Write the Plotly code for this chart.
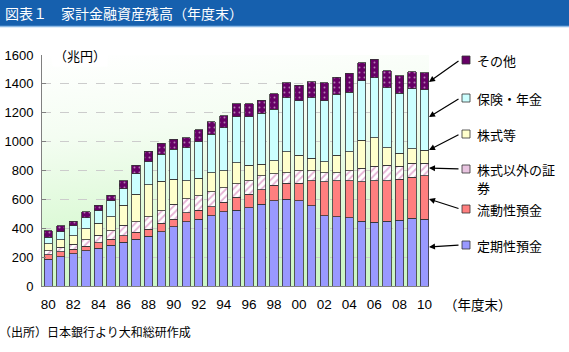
import base64
import plotly.graph_objects as go

years = list(range(1980, 2011))
tick_years = list(range(1980, 2011, 2))
tick_labels = ["80", "82", "84", "86", "88", "90", "92", "94", "96", "98",
               "00", "02", "04", "06", "08", "10"]

teiki = [185, 203, 222, 245, 261, 284, 302, 323, 346, 376, 411, 446, 462, 485, 515, 526,
         543, 566, 589, 600, 589, 557, 487, 480, 473, 450, 441, 450, 457, 469, 464]
ryudo = [30, 35, 32, 32, 39, 39, 47, 49, 47, 58, 51, 62, 64, 65, 65, 88,
         94, 99, 108, 111, 122, 173, 236, 250, 257, 273, 289, 280, 282, 284, 298]
shoken = [30, 30, 35, 42, 53, 60, 71, 74, 87, 88, 104, 95, 100, 103, 101, 93,
          93, 97, 79, 74, 88, 69, 62, 55, 69, 92, 101, 108, 92, 97, 88]
kabu = [46, 51, 60, 76, 81, 97, 141, 189, 220, 205, 173, 127, 120, 132, 116, 147,
        108, 83, 92, 146, 108, 85, 76, 122, 132, 196, 197, 120, 88, 99, 92]
hoken = [46, 57, 67, 78, 86, 109, 111, 141, 159, 185, 208, 228, 254, 266, 300, 319,
         335, 351, 358, 374, 375, 421, 421, 421, 411, 409, 415, 416, 416, 416, 416]
sonota = [44, 40, 34, 42, 41, 41, 58, 62, 76, 76, 71, 70, 81, 87, 81, 88,
          88, 92, 104, 103, 110, 110, 126, 117, 131, 127, 129, 118, 120, 120, 120]

series_names = ["定期性預金", "流動性預金", "株式以外の証券", "株式等", "保険・年金", "その他"]
legend_labels = [["その他"], ["保険・年金"], ["株式等"], ["株式以外の証", "券"], ["流動性預金"], ["定期性預金"]]

JP = "Noto Sans CJK JP"
NUM = "Liberation Sans, Noto Sans CJK JP"
EDGE = "#333333"

# plot geometry (pixels)
L, R, T, B = 42, 140, 55, 66
W, H = 569, 352
PW, PH = W - L - R, H - T - B


def px(x):
    return (x - L) / PW


def py(y):
    return (H - B - y) / PH


fig = go.Figure()

styles = [
    dict(color="#9999ff"),
    dict(color="#ff7f7f"),
    dict(color="#ffffff", pattern=dict(shape="/", fgcolor="#cc66aa", bgcolor="#ffffff",
                                        size=5, solidity=0.35)),
    dict(color="#ffffcc"),
    dict(color="#ccffff"),
    dict(color="#660066", pattern=dict(shape=".", fgcolor="#ffffff", bgcolor="#660066",
                                        size=5, solidity=0.12)),
]
for name, vals, st in zip(series_names, [teiki, ryudo, shoken, kabu, hoken, sonota], styles):
    fig.add_trace(go.Bar(x=years, y=vals, name=name,
                         marker=dict(line=dict(color=EDGE, width=0.8), **st)))

# gradient background
svg = ('<svg xmlns="http://www.w3.org/2000/svg" width="100" height="100" viewBox="0 0 100 100" '
       'preserveAspectRatio="none"><defs><linearGradient id="g" x1="0" y1="0" x2="0.15" y2="1">'
       '<stop offset="0" stop-color="#ffffff"/><stop offset="0.35" stop-color="#f4fdf2"/>'
       '<stop offset="1" stop-color="#ccf7c4"/></linearGradient></defs>'
       '<rect width="100" height="100" fill="url(#g)"/></svg>')
src = "data:image/svg+xml;base64," + base64.b64encode(svg.encode()).decode()

shapes = []
annotations = []

# title bar
shapes.append(dict(type="rect", xref="paper", yref="paper", x0=px(0), x1=px(W), y0=py(26), y1=py(0),
                   fillcolor="#1660ae", line=dict(width=0), layer="above"))
shapes.append(dict(type="line", xref="paper", yref="paper", x0=px(0), x1=px(W), y0=py(26.5), y1=py(26.5),
                   line=dict(color="#8fbbe6", width=1.5)))
annotations.append(dict(text="図表１　家計金融資産残高（年度末）", xref="paper", yref="paper",
                        x=px(3), y=py(13), xanchor="left", yanchor="middle", showarrow=False,
                        font=dict(family=JP, size=14, color="#ffffff")))

# unit label
annotations.append(dict(text="（兆円）", xref="paper", yref="paper", x=px(52), y=py(55),
                        xanchor="left", yanchor="middle", showarrow=False, bgcolor="#ffffff",
                        font=dict(family=JP, size=13, color="#000000")))
# x-axis unit
annotations.append(dict(text="（年度末）", xref="paper", yref="paper", x=px(442), y=py(304),
                        xanchor="left", yanchor="middle", showarrow=False,
                        font=dict(family=JP, size=13.5, color="#000000")))
# source
annotations.append(dict(text="（出所）日本銀行より大和総研作成", xref="paper", yref="paper", x=px(-3), y=py(331),
                        xanchor="left", yanchor="middle", showarrow=False,
                        font=dict(family=JP, size=12, color="#000000")))

# custom legend
leg_y = [60, 98, 134, 169, 209, 245]
leg_fill = ["#660066", "#ccffff", "#ffffcc", "#e8c4e0", "#ff7f7f", "#9999ff"]
head_y = [82, 117, 150, 168, 199, 247]
for lines, yy, fc, hy in zip(legend_labels, leg_y, leg_fill, head_y):
    shapes.append(dict(type="rect", xref="paper", yref="paper", x0=px(462), x1=px(470),
                       y0=py(yy + 4), y1=py(yy - 4), fillcolor=fc, line=dict(color=EDGE, width=0.8)))
    for k, lab in enumerate(lines):
        annotations.append(dict(text=lab, xref="paper", yref="paper", x=px(476), y=py(yy + 18.5 * k),
                                xanchor="left", yanchor="middle", align="left", showarrow=False,
                                borderpad=0, font=dict(family=JP, size=13, color="#000000")))
    annotations.append(dict(text="", xref="paper", yref="paper", x=px(429), y=py(hy),
                            ax=460 - 429, ay=yy - hy, showarrow=True, arrowhead=2, arrowsize=1,
                            arrowwidth=1.2, arrowcolor="#000000", standoff=0))

fig.update_layout(
    width=W, height=H, margin=dict(l=L, r=R, t=T, b=B, autoexpand=False),
    barmode="stack", bargap=0.34, showlegend=False,
    paper_bgcolor="#ffffff", plot_bgcolor="rgba(0,0,0,0)",
    images=[dict(source=src, xref="paper", yref="paper", x=0, y=1, sizex=1, sizey=1,
                 sizing="stretch", xanchor="left", yanchor="top", layer="below")],
    shapes=shapes, annotations=annotations,
    xaxis=dict(range=[1979.5, 2010.36], tickvals=tick_years, ticktext=tick_labels,
               ticks="", showgrid=False, zeroline=False, showline=True, linecolor="#808080",
               linewidth=1, tickfont=dict(family=NUM, size=13.5, color="#000000"),
               ticklabelstandoff=6, automargin=False),
    yaxis=dict(range=[0, 1600], dtick=200, ticks="inside", ticklen=4, tickcolor="#808080",
               showline=True, linecolor="#808080", linewidth=1, zeroline=False,
               showgrid=True, gridcolor="#cccccc", griddash="dash", gridwidth=1,
               tickfont=dict(family=NUM, size=13, color="#000000"), ticklabelstandoff=5,
               automargin=False),
)

fig.write_html("out.html")
